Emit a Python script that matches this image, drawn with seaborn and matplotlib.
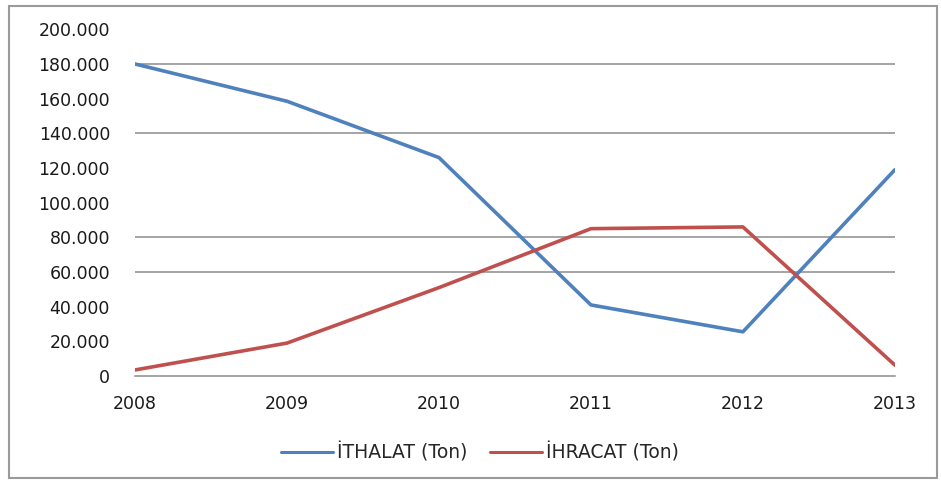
import matplotlib
matplotlib.use("Agg")
import matplotlib.pyplot as plt
from matplotlib.patches import Rectangle
from matplotlib.ticker import FuncFormatter, FixedLocator
import seaborn as sns
import pandas as pd

years = [2008, 2009, 2010, 2011, 2012, 2013]
ithalat = [180000, 158500, 126000, 41000, 25500, 119000]
ihracat = [3500, 19000, 51000, 85000, 86000, 6300]
series_names = ["İTHALAT (Ton)", "İHRACAT (Ton)"]
y_ticks = [0, 20000, 40000, 60000, 80000, 100000, 120000, 140000, 160000, 180000, 200000]
grid_levels = [60000, 80000, 140000, 180000]

df = pd.DataFrame({
    "Yıl": years * 2,
    "Değer": ithalat + ihracat,
    "Seri": [series_names[0]] * len(years) + [series_names[1]] * len(years),
})

sns.set_theme(style="white")
plt.rcParams["font.family"] = ["DejaVu Sans"]

fig = plt.figure(figsize=(9.41, 4.86), dpi=100)
ax = fig.add_axes([0.1435, 0.2263, 0.8075, 0.7134])

# chart frame
fig.patches.append(Rectangle((0.0095, 0.016), 0.986, 0.972, transform=fig.transFigure,
                             fill=False, edgecolor="#9a9a9a", linewidth=1.5))

for lvl in grid_levels:
    ax.axhline(lvl, color="#8c8c8c", linewidth=1.1, zorder=0)

sns.lineplot(data=df, x="Yıl", y="Değer", hue="Seri",
             palette=["#4F81BD", "#C0504D"], linewidth=2.6, ax=ax, legend=True)

ax.set_xlim(years[0], years[-1])
ax.set_ylim(0, 200000)
ax.set_yticks(y_ticks)
ax.yaxis.set_major_formatter(FuncFormatter(lambda v, p: f"{int(v):,}".replace(",", ".")))
ax.set_xticks(years)
ax.xaxis.set_minor_locator(FixedLocator([years[-1]]))
ax.tick_params(axis="x", which="major", length=0, pad=14, labelsize=12.5, colors="#1a1a1a")
ax.tick_params(axis="x", which="minor", length=5, width=1.1, color="#8c8c8c", direction="out")
ax.tick_params(axis="y", length=0, pad=18, labelsize=12.5, colors="#1a1a1a")
ax.set_xlabel("")
ax.set_ylabel("")

for side in ["top", "right", "left"]:
    ax.spines[side].set_visible(False)
ax.spines["bottom"].set_color("#8c8c8c")
ax.spines["bottom"].set_linewidth(1.1)

handles, labels = ax.get_legend_handles_labels()
for h in handles:
    h.set_linewidth(2.2)
ax.legend_.remove()
fig.legend(handles, labels, loc="center", bbox_to_anchor=(0.51, 0.068), ncol=2,
           frameon=False, fontsize=13.5, handlelength=2.8, handletextpad=0.2,
           columnspacing=1.2)

fig.savefig("out.png", dpi=100)
